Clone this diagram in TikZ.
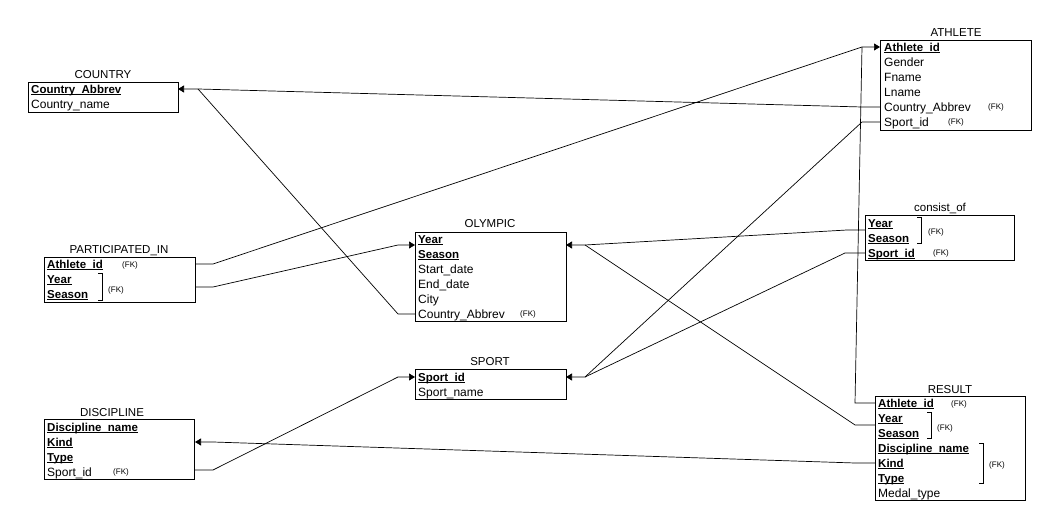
\documentclass[tikz,border=0pt]{standalone}
\usepackage{fontspec}
\setmainfont{Liberation Sans}
\usetikzlibrary{arrows.meta}
\tikzset{
  tbl/.style={draw, line width=0.8pt, anchor=north west, inner sep=0pt},
  ttl/.style={font=\fontsize{11.5}{12}\selectfont, inner sep=0pt, anchor=base, yshift=-4pt},
  attr/.style={font=\fontsize{12}{13}\selectfont, anchor=base west, inner sep=0pt, yshift=-4.2pt},
  pk/.style={font=\fontsize{11.5}{13}\selectfont\bfseries, anchor=base west, inner sep=0pt, yshift=-4.2pt},
  fk/.style={font=\fontsize{8}{9}\selectfont, anchor=west, inner sep=0pt},
  brk/.style={line width=0.8pt},
  conn/.style={line width=0.7pt},
  arr/.style={conn, -{Triangle[length=6pt,width=7pt]}},
}
\newcommand{\ul}[1]{\setbox0\hbox{#1}\rlap{\rule[-1.8pt]{\wd0}{0.7pt}}\box0}
\begin{document}
\begin{tikzpicture}[x=1pt,y=-1pt]
\useasboundingbox (0,0) rectangle (1057,526);

% ATHLETE
\node[tbl, minimum width=151pt, minimum height=90pt] (athlete) at (880,40) {};
\node[ttl] (athleteT) at (956,33) {ATHLETE};
\node[pk] (a1) at (884,47) {\ul{Athlete\_id}};
\node[attr] (a2) at (884,62) {Gender};
\node[attr] (a3) at (884,77) {Fname};
\node[attr] (a4) at (884,92) {Lname};
\node[attr] (a5) at (884,107) {Country\_Abbrev};
\node[fk] (a5f) at (988,107) {(FK)};
\node[attr] (a6) at (884,122) {Sport\_id};
\node[fk] (a6f) at (948,122) {(FK)};

% COUNTRY
\node[tbl, minimum width=150pt, minimum height=30pt] (country) at (28,82) {};
\node[ttl] (countryT) at (103,75) {COUNTRY};
\node[pk] (c1) at (31,89) {\ul{Country\_Abbrev}};
\node[attr] (c2) at (31,104) {Country\_name};

% PARTICIPATED_IN
\node[tbl, minimum width=151pt, minimum height=45pt] (part) at (44,257) {};
\node[ttl] (partT) at (119,250) {PARTICIPATED\_IN};
\node[pk] (p1) at (47,264) {\ul{Athlete\_id}};
\node[fk] (p1f) at (122,265) {(FK)};
\node[pk] (p2) at (47,279) {\ul{Year}};
\node[pk] (p3) at (47,294) {\ul{Season}};
\draw[brk] (98,273) -- (102,273) -- (102,300) -- (98,300);
\node[fk] (p23f) at (108,290) {(FK)};

% OLYMPIC
\node[tbl, minimum width=151pt, minimum height=89pt] (olympic) at (415,232) {};
\node[ttl] (olympicT) at (490,224) {OLYMPIC};
\node[pk] (o1) at (418,239) {\ul{Year}};
\node[pk] (o2) at (418,254) {\ul{Season}};
\node[attr] (o3) at (418,269) {Start\_date};
\node[attr] (o4) at (418,284) {End\_date};
\node[attr] (o5) at (418,299) {City};
\node[attr] (o6) at (418,314) {Country\_Abbrev};
\node[fk] (o6f) at (520,314) {(FK)};

% consist_of
\node[tbl, minimum width=149pt, minimum height=45pt] (consist) at (865,215) {};
\node[ttl] (consistT) at (940,208) {consist\_of};
\node[pk] (k1) at (868,223) {\ul{Year}};
\node[pk] (k2) at (868,238) {\ul{Season}};
\node[pk] (k3) at (868,253) {\ul{Sport\_id}};
\draw[brk] (917,217) -- (921,217) -- (921,243) -- (917,243);
\node[fk] (k12f) at (928,232) {(FK)};
\node[fk] (k3f) at (933,253) {(FK)};

% SPORT
\node[tbl, minimum width=151pt, minimum height=30pt] (sport) at (415,369) {};
\node[ttl] (sportT) at (490,362) {SPORT};
\node[pk] (s1) at (418,377) {\ul{Sport\_id}};
\node[attr] (s2) at (418,392) {Sport\_name};

% DISCIPLINE
\node[tbl, minimum width=150pt, minimum height=60pt] (disc) at (44,419) {};
\node[ttl] (discT) at (112,412) {DISCIPLINE};
\node[pk] (d1) at (47,427) {\ul{Discipline\_name}};
\node[pk] (d2) at (47,442) {\ul{Kind}};
\node[pk] (d3) at (47,457) {\ul{Type}};
\node[attr] (d4) at (47,472) {Sport\_id};
\node[fk] (d4f) at (113,472) {(FK)};

% RESULT
\node[tbl, minimum width=150pt, minimum height=104pt] (result) at (875,396) {};
\node[ttl] (resultT) at (950,389) {RESULT};
\node[pk] (r1) at (878,403) {\ul{Athlete\_id}};
\node[fk] (r1f) at (951,404) {(FK)};
\node[pk] (r2) at (878,418) {\ul{Year}};
\node[pk] (r3) at (878,433) {\ul{Season}};
\draw[brk] (927,412) -- (931,412) -- (931,438) -- (927,438);
\node[fk] (r23f) at (937,428) {(FK)};
\node[pk] (r4) at (878,448) {\ul{Discipline\_name}};
\node[pk] (r5) at (878,463) {\ul{Kind}};
\node[pk] (r6) at (878,478) {\ul{Type}};
\draw[brk] (979,443) -- (983,443) -- (983,483) -- (979,483);
\node[fk] (r456f) at (989,465) {(FK)};
\node[attr] (r7) at (878,493) {Medal\_type};

% ports
\coordinate (athIdIn) at (880,47);
\coordinate (athCtry) at (880,107);
\coordinate (athSport) at (880,122);
\coordinate (ctryIn) at (178,89);
\coordinate (partAth) at (195,264);
\coordinate (partYS) at (195,287);
\coordinate (olyInL) at (415,245);
\coordinate (olyInR) at (566,245);
\coordinate (olyCtry) at (415,314);
\coordinate (conYS) at (865,230);
\coordinate (conSport) at (865,253);
\coordinate (sportInL) at (415,377);
\coordinate (sportInR) at (566,377);
\coordinate (discIn) at (195,442);
\coordinate (discSport) at (195,470);
\coordinate (resAth) at (875,403);
\coordinate (resYS) at (875,425);
\coordinate (resDisc) at (875,463);
% junctions
\coordinate (jAth) at (862,47);
\coordinate (jCtry) at (198,89);
\coordinate (jOlyR) at (585,245);
\coordinate (jSportR) at (585,377);

% connectors
\draw[arr] (partAth) -- ++(18,0) -- (jAth) -- (athIdIn);
\draw[conn] (resAth) -- ++(-20,0) -- (jAth);
\draw[arr] (athCtry) -- ++(-18,0) -- (jCtry) -- (ctryIn);
\draw[conn] (olyCtry) -- ++(-17,0) -- (jCtry);
\draw[arr] (athSport) -- ++(-18,0) -- (jSportR) -- (sportInR);
\draw[conn] (conSport) -- ++(-20,0) -- (jSportR);
\draw[arr] (conYS) -- ++(-18,0) -- (jOlyR) -- (olyInR);
\draw[conn] (resYS) -- ++(-20,0) -- (jOlyR);
\draw[arr] (partYS) -- ++(18,0) -- (398,245) -- (olyInL);
\draw[arr] (resDisc) -- ++(-20,0) -- (213,442) -- (discIn);
\draw[arr] (discSport) -- ++(18,0) -- (398,377) -- (sportInL);
\end{tikzpicture}
\end{document}
